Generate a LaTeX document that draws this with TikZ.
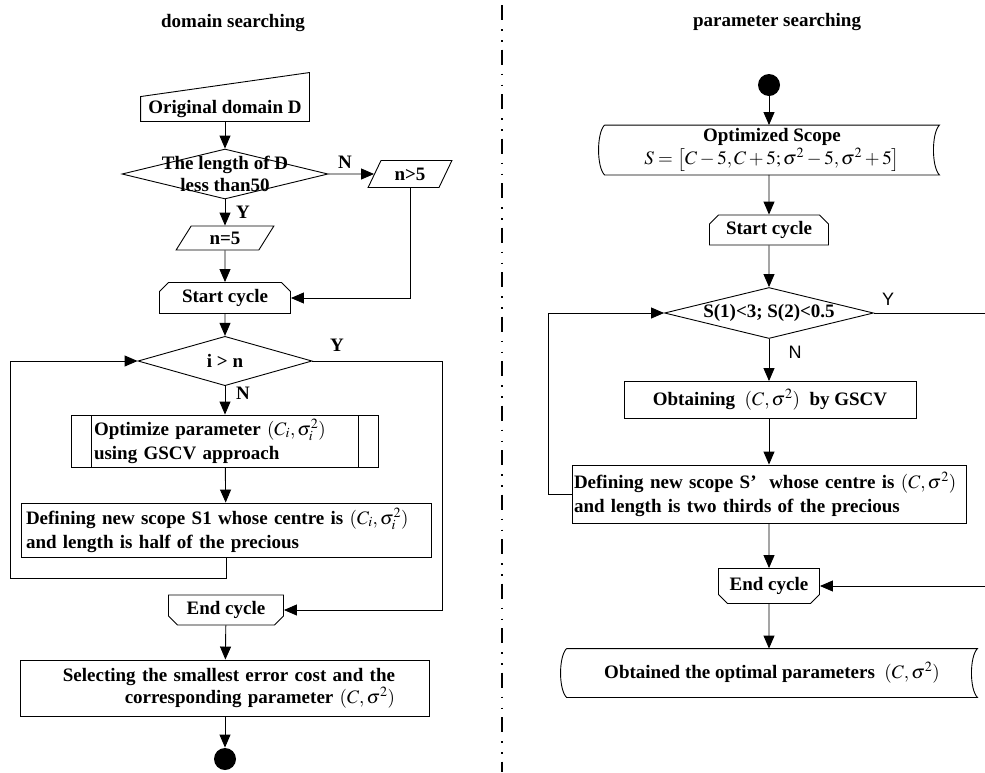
\documentclass[tikz,border=0pt]{standalone}
\usepackage{mathptmx}
\usepackage{fontspec}
\setmainfont{Liberation Serif}
\newfontfamily\arialfont{Liberation Sans}
\usetikzlibrary{shapes.geometric, shapes.misc, arrows.meta, positioning, calc}

% stored data outline round a plain node
\newcommand\storedshape[1]{%
  \draw (#1.north west) -- (#1.north east)
    .. controls +(-8,8) and +(-8,-8) .. (#1.south east)
    -- (#1.south west)
    .. controls +(-8,-8) and +(-8,8) .. (#1.north west);}

\begin{document}
\begin{tikzpicture}[x=1pt, y=-1pt, line width=0.9pt,
    font=\fontsize{19}{22}\selectfont\bfseries,
    box/.style={draw, rectangle, inner sep=3pt},
    io/.style={draw, trapezium, trapezium left angle=65, trapezium right angle=115,
      trapezium stretches=true, inner sep=2pt},
    looptop/.style={draw, chamfered rectangle, chamfered rectangle corners={north west,north east},
      chamfered rectangle xsep=6pt, inner sep=2pt},
    loopbot/.style={draw, chamfered rectangle, chamfered rectangle corners={south west,south east},
      chamfered rectangle xsep=6pt, inner sep=2pt},
    decision/.style={draw, diamond, inner sep=0pt},
    stored/.style={rectangle, inner sep=2pt, align=center},
    predef/.style={draw, rectangle, path picture={
      \draw ([xshift=20pt]path picture bounding box.north west) -- ([xshift=20pt]path picture bounding box.south west)
            ([xshift=-20pt]path picture bounding box.north east) -- ([xshift=-20pt]path picture bounding box.south east);}},
    dot/.style={circle, fill=black, minimum size=22pt, inner sep=0pt},
    arrow/.style={-{Triangle[length=13pt,width=11pt]}},
    tag/.style={inner sep=1pt},
    tagsf/.style={inner sep=1pt, font=\fontsize{18}{20}\selectfont\arialfont},
    divider/.style={line width=2.5pt, dash pattern=on 15pt off 9pt on 1.5pt off 9.5pt on 1.5pt off 8pt}
]
\useasboundingbox (0,0) rectangle (985,772);

% Left: domain searching
\node (ltitle) at (233,23) {domain searching};
\node[minimum width=168pt, minimum height=24pt, inner sep=2pt] (orig) at (225,109) {Original domain D};
\draw (orig.south west) -- (orig.north west) -- ($(orig.north east)+(0,-24)$) -- (orig.south east) -- cycle;
\node[decision, minimum width=206pt, minimum height=50pt,
  label={[align=center]center:The length of D\\less than50}] (len) at (225,174) {};
\node[io, minimum width=84pt, minimum height=27pt] (nbig) at (410,174) {n>5};
\node[io, minimum width=98pt, minimum height=24pt] (nfive) at (225,238) {n=5};
\node[looptop, minimum width=131pt, minimum height=31pt] (startL) at (225,298) {Start cycle};
\node[decision, minimum width=174pt, minimum height=36pt] (cnt) at (225,361) {i > n};
\node[predef, minimum width=307pt, minimum height=52pt, text width=262pt, align=left] (optim) at (225,441)
  {Optimize\ parameter\ $(C_i,\sigma_i^2)$\\[2pt]using GSCV approach};
\node[box, minimum width=410pt, minimum height=54pt, text width=400pt, align=left] (defL) at (226,530)
  {Defining new scope S1 whose centre is $(C_i,\sigma_i^2)$\\[2pt]and length is half of the precious};
\node[loopbot, minimum width=115pt, minimum height=30pt] (endL) at (226,610) {End cycle};
\node[box, minimum width=409pt, minimum height=56pt, text width=340pt, align=right] (sel) at (225,688)
  {Selecting the smallest error cost and the\\corresponding parameter $(C,\sigma^2)$};
\node[dot] (stopL) at (225,759) {};

\coordinate (backL) at (10,578);
\coordinate (yesL) at (442,361);

\draw[arrow] (orig) -- (len);
\draw[arrow] (len) -- (nbig);
\draw[arrow] (len) -- (nfive);
\draw[arrow] (nfive) -- (startL);
\draw[arrow] (nbig.south) |- (startL.east);
\draw[arrow] (startL) -- (cnt);
\draw[arrow] (cnt) -- (optim);
\draw[arrow] (optim) -- (defL);
\draw[arrow] (defL.south) |- (backL) |- (cnt.west);
\draw[arrow] (cnt.east) -- (yesL) |- (endL.east);
\draw[arrow] (endL) -- (sel);
\draw[arrow] (sel) -- (stopL);

\node[tag] (nL1) at (345,162) {N};
\node[tag] (yL1) at (243,212) {Y};
\node[tag] (yL2) at (337,345) {Y};
\node[tag] (nL2) at (243,393) {N};

% divider
\draw[divider] (502,5) -- (502,772);

% Right: parameter searching
\node (rtitle) at (777,22) {parameter searching};
\node[dot] (startR) at (769,85) {};
\node[stored, minimum width=334pt, minimum height=49pt] (scope) at (772,150)
  {Optimized Scope\\[1pt]\mdseries$S=\left[C-5,C+5;\sigma^2-5,\sigma^2+5\right]$};
\storedshape{scope}
\node[looptop, minimum width=119pt, minimum height=30pt] (startR2) at (769,230) {Start cycle};
\node[decision, minimum width=209pt, minimum height=51pt,
  label={center:S(1)<3; S(2)<0.5}] (stop) at (769,313) {};
\node[box, minimum width=292pt, minimum height=37pt] (obt) at (770,400)
  {Obtaining\ \ $(C,\sigma^2)$\ \ by GSCV};
\node[box, minimum width=394pt, minimum height=58pt, inner sep=2pt, text width=390pt, align=left] (defR) at (769,494)
  {Defining new scope S'\ \ whose centre is $(C,\sigma^2)$\\[2pt]and length is two thirds of the precious};
\node[loopbot, minimum width=101pt, minimum height=35pt] (endR) at (769,586) {End cycle};
\node[stored, minimum width=410pt, minimum height=48pt] (res) at (772,673)
  {Obtained the optimal parameters\ \ $(C,\sigma^2)$};
\storedshape{res}

\coordinate (backR) at (548,494);
\coordinate (yesR) at (992,313);

\draw[arrow] (startR) -- (scope.north -| startR);
\draw[arrow] (scope.south -| startR) -- (startR2);
\draw[arrow] (startR2) -- (stop);
\draw[arrow] (stop) -- (obt.north -| stop);
\draw[arrow] (obt.south -| stop) -- (defR.north -| stop);
\draw[arrow] (defR.west) -- (backR) |- (stop.west);
\draw[arrow] (stop.east) -- (yesR) |- (endR.east);
\draw[arrow] (defR.south -| endR) -- (endR);
\draw[arrow] (endR) -- (res.north -| endR);

\node[tagsf] (yR) at (888,299) {Y};
\node[tagsf] (nR) at (795,352) {N};

\end{tikzpicture}
\end{document}
